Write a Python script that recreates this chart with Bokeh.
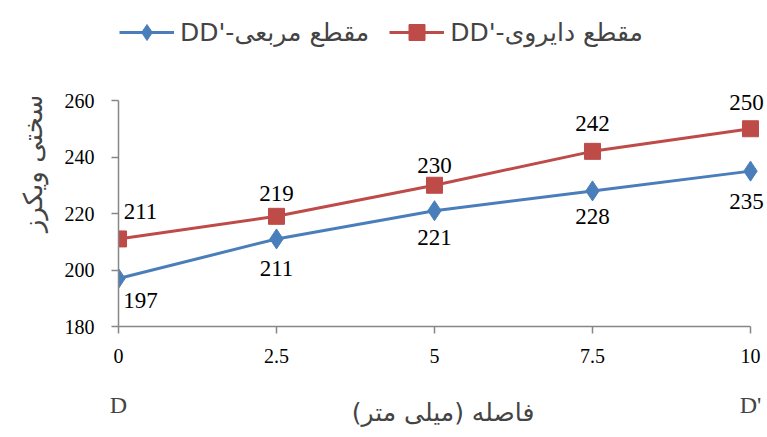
from bokeh.plotting import figure
from bokeh.models import (ColumnDataSource, LabelSet, Legend, LegendItem, LinearAxis,
                          FixedTicker, Range1d)
from bokeh.embed import file_html
from bokeh.resources import INLINE

# Data
distance = [0, 2.5, 5, 7.5, 10]
square_section = [197, 211, 221, 228, 235]
circular_section = [211, 219, 230, 242, 250]
x_ticks = [0, 2.5, 5, 7.5, 10]
y_ticks = [180, 200, 220, 240, 260]
end_labels = {0: "D", 10: "D'"}
series_names = ["DD'-مقطع مربعی", "DD'-مقطع دایروی"]
x_title = "فاصله (میلی متر)"
y_title = "سختی ویکرز"

BLUE = "#4A7EBB"
RED = "#BE4B48"
AXIS = "#868686"
SERIF = "Liberation Serif"

# frame extends past the axis ends (axis bounds limit the drawn axis lines)
p = figure(width=767, height=437, output_backend="svg", toolbar_location=None,
           x_range=Range1d(0, 10.269), y_range=Range1d(180, 295.4),
           min_border_left=118, min_border_right=0, min_border_top=0, min_border_bottom=111)
p.outline_line_color = None
p.xgrid.visible = False
p.ygrid.visible = False
p.background_fill_color = "white"
p.border_fill_color = "white"

# axes
xa = p.xaxis[0]
xa.ticker = FixedTicker(ticks=x_ticks)
xa.bounds = (0, 10)
xa.major_label_overrides = {2.5: "2.5", 7.5: "7.5"}
ya = p.yaxis[0]
ya.ticker = FixedTicker(ticks=y_ticks)
ya.bounds = (180, 260)
for ax in (xa, ya):
    ax.axis_line_color = AXIS
    ax.axis_line_width = 1.5
    ax.major_tick_line_color = AXIS
    ax.major_tick_line_width = 1.5
    ax.major_tick_in = 0
    ax.major_tick_out = 7
    ax.minor_tick_line_color = None
    ax.major_label_text_font = SERIF
    ax.major_label_text_font_size = "20px"
    ax.major_label_text_color = "black"
xa.major_label_standoff = 15
ya.major_label_standoff = 17
ya.axis_label = y_title
ya.axis_label_text_font = "DejaVu Sans"
ya.axis_label_text_font_style = "normal"
ya.axis_label_text_font_size = "26px"
ya.axis_label_standoff = 14

xa2 = LinearAxis(ticker=FixedTicker(ticks=[0, 10]), major_label_overrides=end_labels)
xa2.axis_line_color = None
xa2.major_tick_line_color = None
xa2.minor_tick_line_color = None
xa2.major_tick_out = 0
xa2.major_tick_in = 0
xa2.major_label_text_font = SERIF
xa2.major_label_text_font_size = "24px"
xa2.major_label_standoff = 26
xa2.axis_label = x_title
xa2.axis_label_text_font = "DejaVu Sans"
xa2.axis_label_text_font_style = "normal"
xa2.axis_label_text_font_size = "25px"
xa2.axis_label_standoff = -23
p.add_layout(xa2, "below")

src = ColumnDataSource(dict(x=distance, sq=square_section, ci=circular_section,
                            sq_t=[str(v) for v in square_section],
                            ci_t=[str(v) for v in circular_section],
                            xo=[22, 0, 0, 0, -4],
                            yo_sq=[-22, -30, -27, -26, -30],
                            yo_ci=[27, 23, 20, 28, 26]))

l1 = p.line("x", "sq", source=src, line_color=BLUE, line_width=3)
m1 = p.scatter("x", "sq", source=src, marker="diamond", size=20, fill_color=BLUE, line_color=BLUE)
l2 = p.line("x", "ci", source=src, line_color=RED, line_width=3)
m2 = p.scatter("x", "ci", source=src, marker="square", size=16, fill_color=RED, line_color=RED)

lab1 = LabelSet(x="x", y="sq", text="sq_t", source=src, x_offset="xo", y_offset="yo_sq",
                text_align="center", text_baseline="middle", text_font=SERIF,
                text_font_size="23px", text_color="black")
lab2 = LabelSet(x="x", y="ci", text="ci_t", source=src, x_offset="xo", y_offset="yo_ci",
                text_align="center", text_baseline="middle", text_font=SERIF,
                text_font_size="23px", text_color="black")
p.add_layout(lab1)
p.add_layout(lab2)

legend = Legend(items=[LegendItem(label=series_names[0], renderers=[l1, m1]),
                       LegendItem(label=series_names[1], renderers=[l2, m2])],
                orientation="horizontal", location=(1, 274),
                glyph_width=55, glyph_height=40, label_standoff=6, spacing=20,
                label_text_font="DejaVu Sans", label_text_font_size="25px",
                background_fill_alpha=0, border_line_color=None, padding=0, margin=0)
p.add_layout(legend, "center")

open("out.html", "w").write(file_html(p, INLINE))
